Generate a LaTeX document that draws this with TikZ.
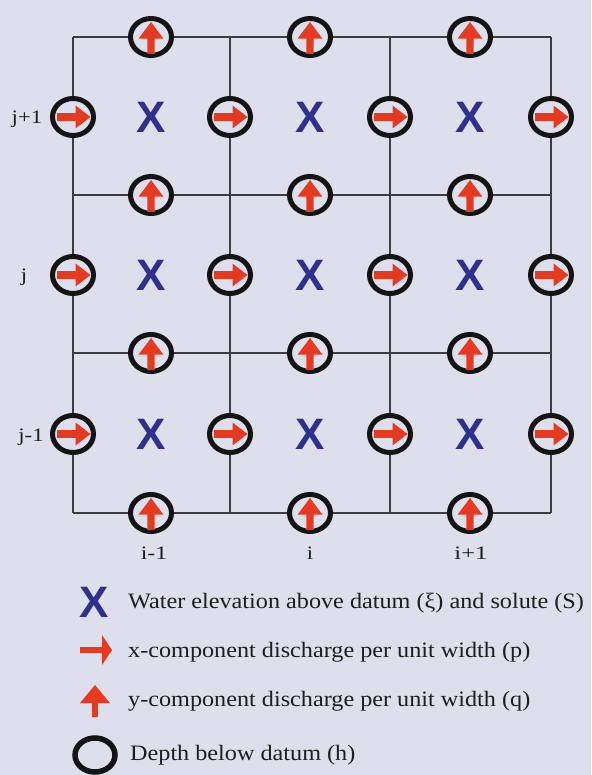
\documentclass[tikz,border=0pt]{standalone}
\usepackage{fontspec}
\setmainfont{Liberation Serif}
\newfontfamily\xfont{Liberation Sans}
\usetikzlibrary{shapes.geometric}
\definecolor{bg}{RGB}{222,223,236}
\definecolor{arrowred}{RGB}{229,58,32}
\definecolor{xblue}{RGB}{46,49,140}
\definecolor{gridgray}{RGB}{60,60,66}
\definecolor{txt}{RGB}{30,30,30}
\newcommand{\widetxt}[2]{\scalebox{#1}[1]{#2}}
\tikzset{
  gridline/.style={draw=gridgray, line width=1.1pt},
  ring/.style={ellipse, draw=black!92, line width=5pt, fill=bg, minimum width=41pt, minimum height=37pt, inner sep=0pt},
  legring/.style={ellipse, draw=black!92, line width=5.5pt, fill=bg, minimum width=40pt, minimum height=34pt, inner sep=0pt},
  xmark/.style={text=xblue, font=\xfont\bfseries\fontsize{44}{44}\selectfont, inner sep=0pt},
  idx/.style={text=txt, font=\fontsize{19}{19}\selectfont, inner sep=0pt},
  legtext/.style={text=txt, font=\fontsize{22}{22}\selectfont, inner sep=0pt, anchor=west},
  rarrow/.pic={\fill[arrowred] (-16,-3.8) -- (2.5,-3.8) -- (2.5,-11.5) -- (17.5,0) -- (2.5,11.5) -- (2.5,3.8) -- (-16,3.8) -- cycle;},
  uarrow/.pic={\fill[arrowred] (-3.6,17) -- (-3.6,1.7) -- (-12.5,1.7) -- (0,-15) -- (12.5,1.7) -- (3.6,1.7) -- (3.6,17) -- cycle;},
  legrarrow/.pic={\fill[arrowred] (-16,-2.8) -- (6,-2.8) -- (6,-15) -- (16,0) -- (6,15) -- (6,2.8) -- (-16,2.8) -- cycle;},
  leguarrow/.pic={\fill[arrowred] (-2.8,16) -- (-2.8,2) -- (-15,2) -- (0,-16) -- (15,2) -- (2.8,2) -- (2.8,16) -- cycle;},
}
\begin{document}
\begin{tikzpicture}[x=1pt,y=-1pt]
\fill[bg] (0,0) rectangle (591,775);
\useasboundingbox (0,0) rectangle (591,775);
% grid corners
\foreach \x [count=\i] in {73,230,390,551}
  \foreach \y [count=\j] in {37,195,353,513}
    \coordinate (g\i\j) at (\x,\y);
\foreach \j in {1,2,3,4} \draw[gridline] (g1\j) -- (g4\j);
\foreach \i in {1,2,3,4} \draw[gridline] (g\i1) -- (g\i4);
% x-discharge points (on vertical edges)
\foreach \x [count=\i] in {73,230,390,551}
  \foreach \y [count=\j] in {117,275,434} {
    \node[ring] (p\i\j) at (\x,\y) {};
    \pic at (p\i\j) {rarrow};
  }
% y-discharge points (on horizontal edges)
\foreach \x [count=\i] in {151,310,470}
  \foreach \y [count=\j] in {37,195,353,513} {
    \node[ring] (q\i\j) at (\x,\y) {};
    \pic at (q\i\j) {uarrow};
  }
% water elevation points
\foreach \x [count=\i] in {151,310,470}
  \foreach \y [count=\j] in {117,275,434}
    \node[xmark] (e\i\j) at (\x,\y) {X};
% indices
\node[idx] (jp) at (27,119) {\widetxt{1.2}{j+1}};
\node[idx] (j0) at (24,277) {\widetxt{1.2}{j}};
\node[idx] (jm) at (31,437) {\widetxt{1.2}{j-1}};
\node[idx] (im) at (154,553) {\widetxt{1.25}{i-1}};
\node[idx] (i0) at (310,553) {\widetxt{1.2}{i}};
\node[idx] (ip) at (471,553) {\widetxt{1.3}{i+1}};
% legend
\node[xmark] (lx) at (94,602) {X};
\node[legtext] (tx) at (128,603) {\widetxt{1.1}{Water elevation above datum (ξ) and solute (S)}};
\pic at (96,650) {legrarrow};
\coordinate (lp) at (96,650);
\node[legtext] (tp) at (128,652) {\widetxt{1.1}{x-component discharge per unit width (p)}};
\pic at (95,701) {leguarrow};
\coordinate (lq) at (95,701);
\node[legtext] (tq) at (128,701) {\widetxt{1.1}{y-component discharge per unit width (q)}};
\node[legring] (lh) at (95,755) {};
\node[legtext] (th) at (130,755) {\widetxt{1.1}{Depth below datum (h)}};
\end{tikzpicture}
\end{document}
